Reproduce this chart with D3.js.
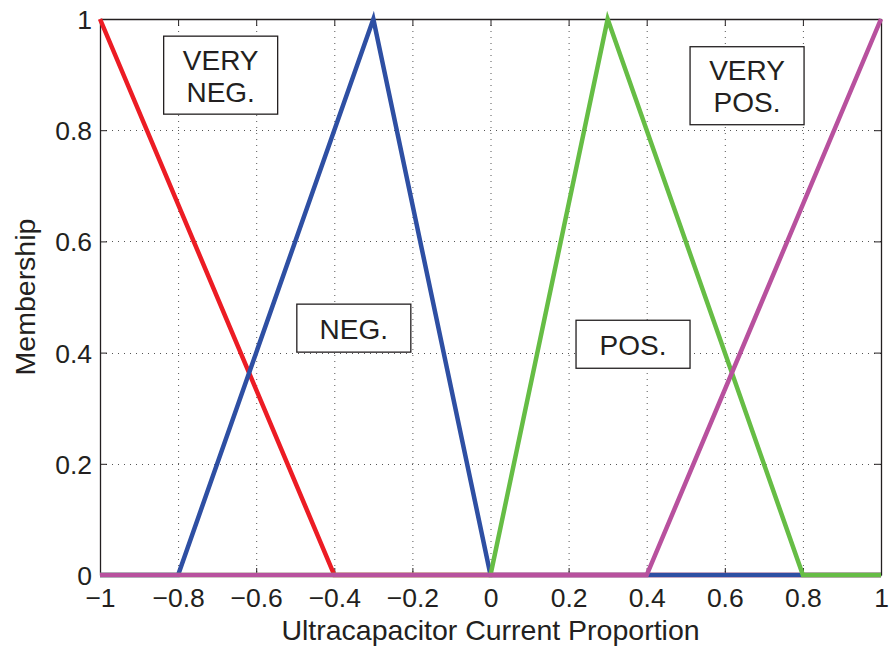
<!DOCTYPE html>
<html>
<head>
<meta charset="utf-8">
<script src="https://cdn.jsdelivr.net/npm/d3@7"></script>
<style>
  html, body { margin: 0; padding: 0; background: #fff; }
  svg { display: block; }
  text { font-family: "Liberation Sans", Arial, sans-serif; fill: #231f20; }
</style>
</head>
<body>
<svg id="chart" width="890" height="652"></svg>
<script>
// Membership functions of the ultracapacitor current proportion
const xTicks = [-1, -0.8, -0.6, -0.4, -0.2, 0, 0.2, 0.4, 0.6, 0.8, 1];
const yTicks = [0, 0.2, 0.4, 0.6, 0.8, 1];

const veryNeg = [[-1, 1], [-0.4, 0], [1, 0]];
const neg     = [[-1, 0], [-0.8, 0], [-0.3, 1], [0, 0], [1, 0]];
const pos     = [[-1, 0], [0, 0], [0.3, 1], [0.8, 0], [1, 0]];
const veryPos = [[-1, 0], [0.4, 0], [1, 1]];

const seriesNames = ["VERY NEG.", "NEG.", "POS.", "VERY POS."];
const seriesData = [veryNeg, neg, pos, veryPos];
const seriesColors = ["#ec1c24", "#2e4fa3", "#66bd45", "#b8519e"];

// text boxes: label lines and centre in data units
const boxLines = [["VERY", "NEG."], ["NEG."], ["POS."], ["VERY", "POS."]];
const boxCenters = [[-0.691, 0.899], [-0.35, 0.444], [0.365, 0.415], [0.657, 0.88]];

const svg = d3.select("#chart");
const x = d3.scaleLinear().domain([-1, 1]).range([100, 881]);
const y = d3.scaleLinear().domain([0, 1]).range([575, 19]);

const fmt = d => d === 0 ? "0" : (d < 0 ? "\u2212" : "") + String(Math.abs(d));

// grid
const grid = svg.append("g").attr("stroke", "#555").attr("stroke-width", 1)
  .attr("stroke-dasharray", "1,5");
grid.selectAll(".gx").data(xTicks.slice(1, -1)).join("line")
  .attr("x1", d => x(d) + 0.5).attr("x2", d => x(d) + 0.5)
  .attr("y1", y(1)).attr("y2", y(0));
grid.selectAll(".gy").data(yTicks.slice(1, -1)).join("line")
  .attr("y1", d => Math.round(y(d)) + 0.5).attr("y2", d => Math.round(y(d)) + 0.5)
  .attr("x1", x(-1)).attr("x2", x(1));

// axes with inward ticks
const xAxisB = d3.axisBottom(x).tickValues(xTicks).tickSizeInner(-7).tickSizeOuter(0).tickPadding(13).tickFormat(fmt);
const xAxisT = d3.axisTop(x).tickValues(xTicks).tickSizeInner(-7).tickSizeOuter(0).tickFormat("");
const yAxisL = d3.axisLeft(y).tickValues(yTicks).tickSizeInner(-7).tickSizeOuter(0).tickPadding(8).tickFormat(fmt);
const yAxisR = d3.axisRight(y).tickValues(yTicks).tickSizeInner(-7).tickSizeOuter(0).tickFormat("");

function styleAxis(g) {
  g.selectAll("path").attr("stroke", "#231f20").attr("stroke-width", 1.3);
  g.selectAll("line").attr("stroke", "#231f20").attr("stroke-width", 1);
  g.selectAll("text").attr("font-size", 26.5).attr("fill", "#231f20")
    .attr("font-family", "'Liberation Sans', Arial, sans-serif");
}
svg.append("g").attr("transform", `translate(0,${y(0)})`).call(xAxisB).call(styleAxis);
svg.append("g").attr("transform", `translate(0,${y(1)})`).call(xAxisT).call(styleAxis);
svg.append("g").attr("transform", `translate(${x(-1)},0)`).call(yAxisL).call(styleAxis)
  .selectAll("text").attr("dy", "0.36em");
svg.append("g").attr("transform", `translate(${x(1)},0)`).call(yAxisR).call(styleAxis);

// membership lines
const line = d3.line().x(d => x(d[0])).y(d => y(d[1]));
svg.append("g").selectAll("path").data(seriesData).join("path")
  .attr("d", line)
  .attr("fill", "none")
  .attr("stroke", (d, i) => seriesColors[i])
  .attr("stroke-width", 4.5)
  .attr("stroke-linejoin", "miter");

// label boxes
const boxW = 114;
const boxes = svg.append("g").selectAll("g").data(boxLines).join("g")
  .attr("transform", (d, i) => `translate(${x(boxCenters[i][0])},${y(boxCenters[i][1])})`);
boxes.append("rect")
  .attr("x", -boxW / 2)
  .attr("y", d => d.length === 2 ? -39 : -24)
  .attr("width", boxW)
  .attr("height", d => d.length === 2 ? 78 : 48)
  .attr("fill", "#fff").attr("stroke", "#231f20").attr("stroke-width", 1.3);
boxes.each(function(d) {
  const g = d3.select(this);
  const n = d.length;
  d.forEach((t, k) => {
    g.append("text").attr("text-anchor", "middle")
      .attr("y", (k - (n - 1) / 2) * 32 + 10.5)
      .attr("font-size", 28).text(t);
  });
});

// axis titles
svg.append("text").attr("x", (x(-1) + x(1)) / 2).attr("y", 640)
  .attr("text-anchor", "middle").attr("font-size", 28.5).text("Ultracapacitor Current Proportion");
svg.append("text").attr("transform", `translate(35,${(y(0) + y(1)) / 2}) rotate(-90)`)
  .attr("text-anchor", "middle").attr("font-size", 28.5).text("Membership");
</script>
</body>
</html>
